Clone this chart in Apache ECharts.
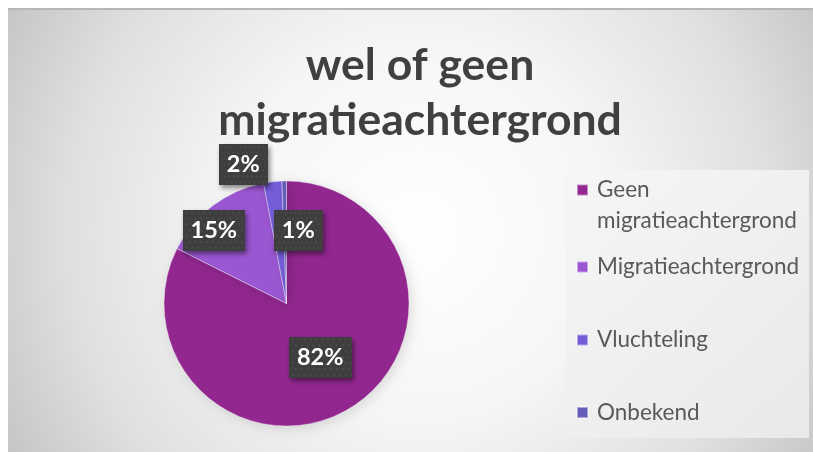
<!DOCTYPE html>
<html>
<head>
<meta charset="utf-8">
<script src="https://cdn.jsdelivr.net/npm/echarts@6/dist/echarts.min.js"></script>
<style>
html,body{margin:0;padding:0;background:#fff;}
#c{width:813px;height:452px;}
</style>
</head>
<body>
<div id="c"></div>
<script>
// Data
var titleLines = ['wel of geen', 'migratieachtergrond'];
var categories = ['Geen migratieachtergrond', 'Migratieachtergrond', 'Vluchteling', 'Onbekend'];
var legendLabels = [' \nGeen\nmigratieachtergrond', 'Migratieachtergrond', 'Vluchteling', 'Onbekend'];
var values = [82.4, 14.6, 2.4, 0.6];
var colors = ['#92278F', '#9B57D3', '#755DD9', '#665EB8'];

// Label nudges (style only)
var labelShift = [[0, -1], [-34, -22], [-36, -75], [13, -9]];
var legendTops = [143.5, 251.5, 324.5, 397];

var total = values.reduce(function (a, b) { return a + b; }, 0);

// dotted label background texture
function makeTexture(w, h) {
  var cv = document.createElement('canvas');
  cv.width = w; cv.height = h;
  var ctx = cv.getContext('2d');
  ctx.fillStyle = '#3e3e3e';
  ctx.fillRect(0, 0, w, h);
  ctx.fillStyle = '#4c4c4c';
  for (var y = 2; y < h; y += 6) {
    for (var x = 2 + ((y / 6) % 2) * 3; x < w; x += 6) {
      ctx.fillRect(x, y, 2, 2);
    }
  }
  return cv;
}
var tex = makeTexture(64, 42);

var chart = echarts.init(document.getElementById('c'), null, {renderer: 'canvas'});

var legends = categories.map(function (name, i) {
  return {
    data: [{name: name}],
    orient: 'vertical',
    left: 576,
    top: legendTops[i],
    padding: 0,
    icon: 'rect',
    itemWidth: 11,
    itemHeight: 11,
    selectedMode: false,
    formatter: function () { return legendLabels[i]; },
    textStyle: {
      fontFamily: 'Lato',
      fontSize: 22.5,
      lineHeight: 31,
      color: '#595959',
      padding: [0, 0, 0, 4]
    }
  };
});

var option = {
  animation: false,
  color: colors,
  graphic: [
    {
      type: 'rect', z: -10, silent: true,
      shape: {x: 8, y: 9, width: 805, height: 443},
      style: {
        fill: {
          type: 'radial', x: 0.51, y: 0.5, r: 1.05,
          colorStops: [
            {offset: 0, color: '#ffffff'},
            {offset: 0.4, color: '#f6f6f6'},
            {offset: 0.75, color: '#e0e0e0'},
            {offset: 1, color: '#c6c6c6'}
          ]
        }
      }
    },
    {
      type: 'rect', z: -9, silent: true,
      shape: {x: 8, y: 8, width: 805, height: 2},
      style: {fill: '#b6b6b6'}
    },
    {
      type: 'rect', z: -8, silent: true,
      shape: {x: 565, y: 170, width: 244, height: 268},
      style: {
        fill: {
          type: 'linear', x: 0, y: 0, x2: 1, y2: 1,
          colorStops: [
            {offset: 0, color: '#f6f6f6'},
            {offset: 1, color: '#e9e9e9'}
          ]
        }
      }
    }
  ],
  title: {
    text: titleLines.join('\n'),
    left: 415,
    textAlign: 'center',
    top: 33,
    textStyle: {
      fontFamily: 'Lato',
      fontWeight: 'bold',
      fontSize: 44.5,
      lineHeight: 55,
      color: '#404040'
    }
  },
  legend: legends,
  series: [{
    type: 'pie',
    center: [286.5, 303.5],
    radius: 122.5,
    startAngle: 90,
    clockwise: true,
    avoidLabelOverlap: false,
    data: categories.map(function (n, i) { return {name: n, value: values[i]}; }),
    itemStyle: {
      borderColor: 'rgba(255,255,255,0.45)',
      borderWidth: 0.8,
      shadowBlur: 12,
      shadowColor: 'rgba(0,0,0,0.12)',
      shadowOffsetX: 3,
      shadowOffsetY: 3
    },
    label: {
      show: true,
      position: 'inside',
      formatter: function (p) { return Math.round(p.value / total * 100) + '%'; },
      fontFamily: 'Lato',
      fontWeight: 'bold',
      fontSize: 23.5,
      color: '#ffffff',
      backgroundColor: {image: tex},
      padding: [9, 8, 8, 8],
      shadowBlur: 5,
      shadowOffsetX: 2,
      shadowOffsetY: 3,
      shadowColor: 'rgba(0,0,0,0.45)'
    },
    labelLine: {show: false},
    labelLayout: function (p) {
      var s = labelShift[p.dataIndex];
      return {dx: s[0], dy: s[1]};
    },
    emphasis: {disabled: true}
  }]
};
chart.setOption(option);
</script>
</body>
</html>
